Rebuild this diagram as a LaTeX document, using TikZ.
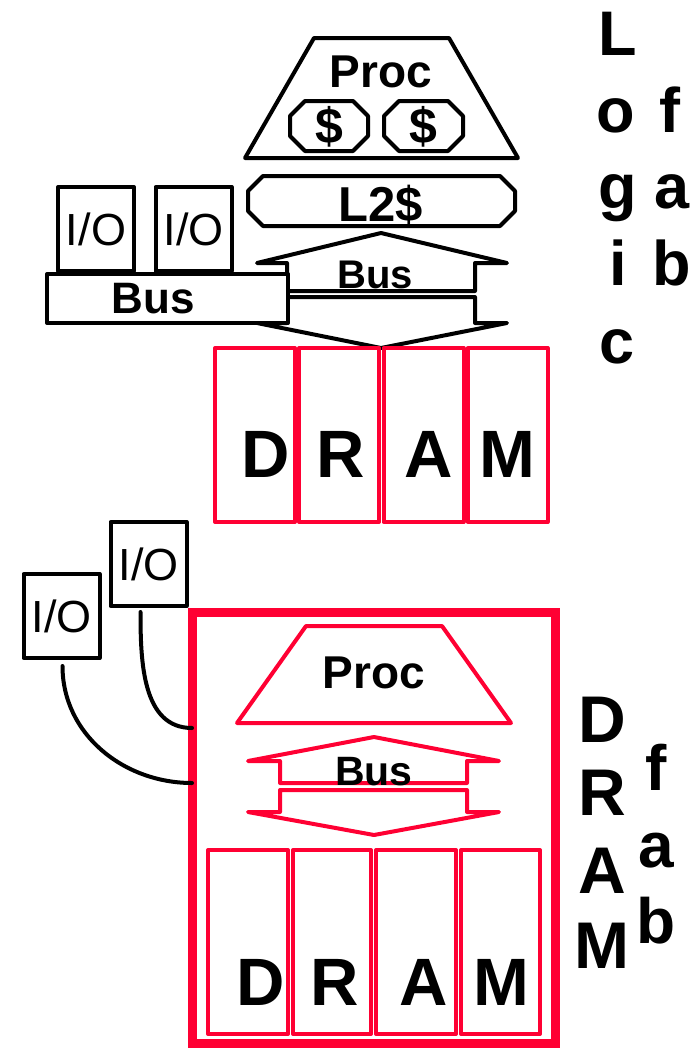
\documentclass[tikz,border=0pt]{standalone}
\usepackage{fontspec}
\setmainfont{Liberation Sans}
\definecolor{dramred}{RGB}{255,0,51}
\newcommand{\bsz}[1]{\fontsize{#1}{#1}\selectfont\bfseries}

\begin{document}
\begin{tikzpicture}[x=1pt, y=-1pt, line width=4pt, line join=round, line cap=round,
    lbl/.style={inner sep=0pt, anchor=base},
    cell/.style={draw=dramred, inner sep=0pt, minimum width=80pt, minimum height=174pt},
    iobox/.style={draw, fill=white, inner sep=0pt, minimum width=76pt, minimum height=84pt,
      font=\fontsize{45}{45}\selectfont}]
    \useasboundingbox (0,0) rectangle (698,1050);

    % Logic fab: processor and caches
    \draw (314,38) -- (449,38) -- (518,158) -- (245,158) -- cycle;
    \node[lbl, font=\bsz{46}] (proc1) at (381,87) {Proc};
    \draw (305,101) -- (353,101) -- (368,116) -- (368,136) -- (353,151) -- (305,151) -- (290,136) -- (290,116) -- cycle;
    \draw (399,101) -- (448,101) -- (463,116) -- (463,136) -- (448,151) -- (399,151) -- (384,136) -- (384,116) -- cycle;
    \node[inner sep=0pt, font=\bsz{50}] (c1) at (329,127) {\$};
    \node[inner sep=0pt, font=\bsz{50}] (c2) at (423,127) {\$};
    \draw (263,176) -- (500,176) -- (515,191) -- (515,211) -- (500,226) -- (263,226) -- (248,211) -- (248,191) -- cycle;
    \node[inner sep=0pt, font=\bsz{49}] (l2) at (381,205) {L2\$};

    % Bus arrows
    \draw (287,291) -- (287,263) -- (257,263) -- (381,233) -- (507,263) -- (475,263) -- (475,291) -- cycle;
    \draw (287,297) -- (475,297) -- (475,323) -- (507,323) -- (381,348) -- (257,323) -- (287,323) -- cycle;
    \node[lbl, font=\bsz{40}] (bus1) at (375,288) {Bus};

    % I/O bus
    \node[draw, fill=white, inner sep=0pt, minimum width=241pt, minimum height=49pt] (iobus) at (167.5,298.5) {};
    \node[lbl, font=\bsz{44}] (iobusl) at (153,313) {Bus};
    \node[iobox] (io1) at (96,229) {I/O};
    \node[iobox] (io2) at (193.5,229) {I/O};

    % DRAM chips
    \node[cell] (d1) at (255,435) {};
    \node[cell] (d2) at (339,435) {};
    \node[cell] (d3) at (423.5,435) {};
    \node[cell] (d4) at (507.5,435) {};
    \node[lbl, font=\bsz{67}] at (266,477) {D};
    \node[lbl, font=\bsz{67}] at (341,477) {R};
    \node[lbl, font=\bsz{67}] at (429,477) {A};
    \node[lbl, font=\bsz{67}] at (507,477) {M};

    % Logic fab
    \node[lbl, font=\bsz{63}] at (618,55) {L};
    \node[lbl, font=\bsz{63}] at (616,132) {o};
    \node[lbl, font=\bsz{63}] at (618,208) {g};
    \node[lbl, font=\bsz{63}] at (618,285) {i};
    \node[lbl, font=\bsz{63}] at (617,363) {c};
    \node[lbl, font=\bsz{63}] at (670,132) {f};
    \node[lbl, font=\bsz{63}] at (672,208) {a};
    \node[lbl, font=\bsz{63}] at (672,285) {b};

    % DRAM fab: one chip
    \draw[dramred, line width=9pt, line join=miter] (192,612) rectangle (555,1043);
    \draw[dramred] (306,626) -- (442,626) -- (511,723) -- (237,723) -- cycle;
    \node[lbl, font=\bsz{46}] (proc2) at (374,688) {Proc};
    \draw[dramred] (280,783) -- (280,761) -- (248,761) -- (374,737) -- (499,761) -- (467,761) -- (467,783) -- cycle;
    \draw[dramred] (280,790) -- (467,790) -- (467,812) -- (499,812) -- (374,835) -- (248,812) -- (280,812) -- cycle;
    \node[lbl, font=\bsz{41}] (bus2) at (374,785) {Bus};
    \node[cell, minimum height=184pt] (e1) at (248,942) {};
    \node[cell, minimum width=78pt, minimum height=184pt] (e2) at (332,942) {};
    \node[cell, minimum height=184pt] (e3) at (416,942) {};
    \node[cell, minimum width=79pt, minimum height=184pt] (e4) at (500.5,942) {};
    \node[lbl, font=\bsz{67}] at (261,1005) {D};
    \node[lbl, font=\bsz{67}] at (335,1005) {R};
    \node[lbl, font=\bsz{67}] at (424,1005) {A};
    \node[lbl, font=\bsz{67}] at (501,1005) {M};

    % I/O on the DRAM chip
    \node[iobox] (io3) at (148.5,564) {I/O};
    \node[iobox] (io4) at (61.5,616) {I/O};
    \coordinate (j1) at (192,728);
    \coordinate (j2) at (192,783);
    \draw ([shift={(-8pt,-4pt)}]io3.south) to[out=-90, in=180] (j1);
    \draw ([shift={(1pt,-6pt)}]io4.south) to[out=-90, in=180] (j2);

    % DRAM fab
    \node[lbl, font=\bsz{66}] at (602,742) {D};
    \node[lbl, font=\bsz{66}] at (602,815) {R};
    \node[lbl, font=\bsz{66}] at (602,893) {A};
    \node[lbl, font=\bsz{66}] at (602,968) {M};
    \node[lbl, font=\bsz{64}] at (656,790) {f};
    \node[lbl, font=\bsz{64}] at (656,867) {a};
    \node[lbl, font=\bsz{64}] at (656,943) {b};
\end{tikzpicture}
\end{document}
